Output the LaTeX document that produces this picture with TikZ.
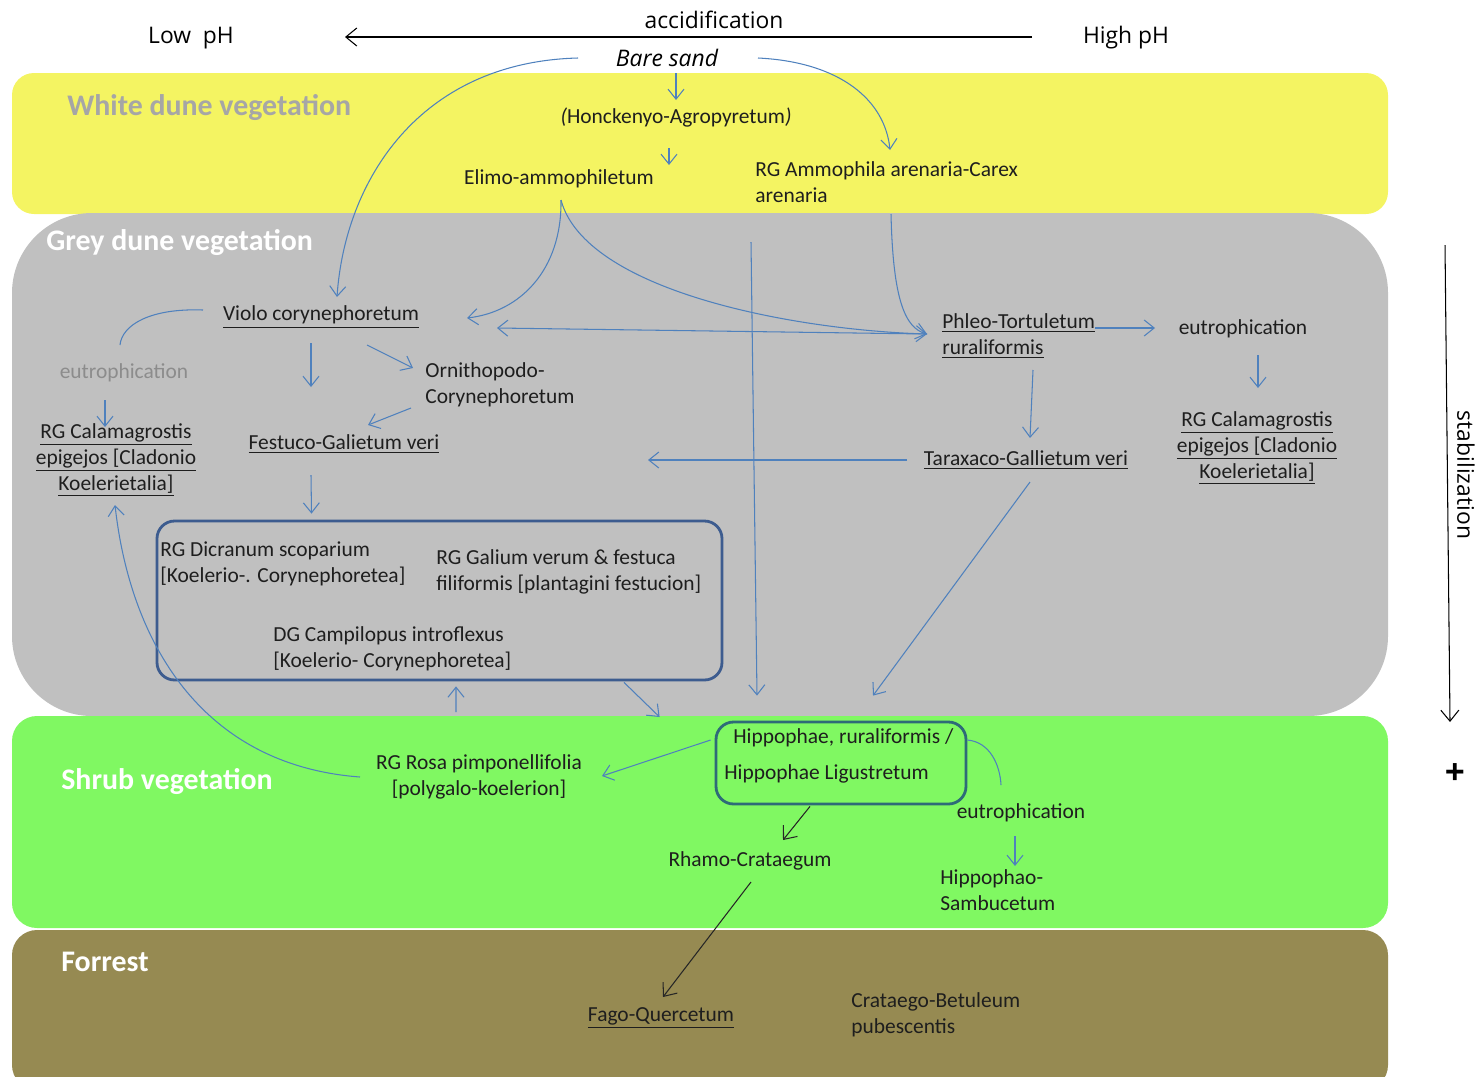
\documentclass[tikz,border=0pt]{standalone}
\usepackage{fontspec}
\setmainfont{Carlito}
\newfontfamily\headfont{Open Sans}
\usepackage{xcolor}
\usepackage{tikz}
\usetikzlibrary{arrows.meta, positioning, calc}

\definecolor{whitedune}{HTML}{F4F462}
\definecolor{greydune}{HTML}{C0C0C0}
\definecolor{shrubgreen}{HTML}{80F862}
\definecolor{forrestolive}{HTML}{968A52}
\definecolor{flowblue}{HTML}{4F81BD}
\definecolor{boxblue}{HTML}{3D5C8F}
\definecolor{boxteal}{HTML}{2E6B78}
\definecolor{inkgrey}{HTML}{1E1E1E}

\begin{document}
\begin{tikzpicture}[
    x=0.02cm, y=-0.02cm,
    bandtitle/.style={font=\fontsize{17}{20}\selectfont\bfseries, text=#1, anchor=west, inner sep=0pt},
    plant/.style={font=\fontsize{12.2}{14.7}\selectfont, text=inkgrey, inner sep=0pt, align=center},
    toplabel/.style={font=\headfont\fontsize{13}{15}\selectfont, text=black, inner sep=0pt},
    flow/.style={-{Straight Barb[length=2mm, width=3.2mm]}, line width=0.6pt, draw=flowblue},
    link/.style={line width=0.6pt, draw=flowblue},
    axis/.style={-{Straight Barb[length=2.2mm, width=3.6mm]}, line width=0.6pt, draw=black},
    groupbox/.style={draw=#1, line width=1.6pt, rounded corners=10pt, inner sep=0pt}
]
    \clip (0,0) rectangle (1476,1076);

    % Vegetation bands
    \fill[whitedune, rounded corners=0.44cm] (12,73) rectangle (1388,214);
    \fill[greydune, rounded corners=1.6cm] (12,213) rectangle (1388,716);
    \fill[shrubgreen, rounded corners=0.5cm] (12,716) rectangle (1388,928);
    \fill[forrestolive, rounded corners=0.5cm] (12,930) rectangle (1388,1090);

    \node[bandtitle=black!35] (whitet) at (67,108) {White dune vegetation};
    \node[bandtitle=white] (greyt) at (46,243) {Grey dune vegetation};
    \node[bandtitle=white] (shrubt) at (61,782) {Shrub vegetation};
    \node[bandtitle=white] (forrestt) at (61,962) {Forrest};

    % pH scale and stabilization
    \node[toplabel] (acc) at (714,20) {accidification};
    \node[toplabel] (low) at (191,38) {Low~~pH};
    \node[toplabel] (high) at (1126,38) {High pH};
    \draw[axis] ([shift={(318,17)}]acc.center) -- ([shift={(-369,17)}]acc.center);

    \node[toplabel, rotate=-90] (stab) at (1466,475) {stabilization};
    \node[inner sep=0pt, font=\headfont\bfseries\fontsize{20}{22}\selectfont] (plus) at (1455,774) {+};
    \coordinate (stabtop) at (1445,245);
    \coordinate (stabend) at (1450,722);
    \draw[axis] (stabtop) -- (stabend);

    % White dune
    \node[toplabel, font=\headfont\itshape\fontsize{13}{15}\selectfont] (bare) at (667,58) {Bare sand};
    \node[plant] (honck) at (676,118) {\textit{(}Honckenyo-Agropyretum\textit{)}};
    \node[plant] (elimo) at (559,179) {Elimo-ammophiletum};
    \node[plant, anchor=west, align=left] (ammo) at (755,182) {RG Ammophila arenaria-Carex\\arenaria};

    % Grey dune
    \node[plant] (violo) at (321,317) {\underline{Violo corynephoretum}};
    \node[plant, text=black!45] (eutl) at (124,373) {eutrophication};
    \node[plant] (call) at (116,460) {\underline{RG Calamagrostis}\\\underline{epigejos [Cladonio}\\\underline{Koelerietalia]}};
    \node[plant, anchor=west, align=left] (ornith) at (425,385) {Ornithopodo-\\Corynephoretum};
    \node[plant] (fest) at (344,444) {\underline{Festuco-Galietum veri}};
    \node[plant, anchor=west, align=left] (phleo) at (942,336) {\underline{Phleo-Tortuletum}\\\underline{ruraliformis}};
    \node[plant] (eutr) at (1243,329) {eutrophication};
    \node[plant] (calr) at (1257,448) {\underline{RG Calamagrostis}\\\underline{epigejos [Cladonio}\\\underline{Koelerietalia]}};
    \node[plant] (tarax) at (1026,460) {\underline{Taraxaco-Gallietum veri}};

    \node[groupbox=boxblue, minimum width=565*0.02cm, minimum height=159*0.02cm] (bigbox) at (439.5,600.5) {};
    \node[plant, anchor=west, align=left] (dicr) at (160,564) {RG Dicranum scoparium\\{[}Koelerio-. Corynephoretea]};
    \node[plant, anchor=west, align=left] (galium) at (436,572) {RG Galium verum \& festuca\\filiformis [plantagini festucion]};
    \node[plant, anchor=west, align=left] (campil) at (273,649) {DG Campilopus introflexus\\{[}Koelerio- Corynephoretea]};

    % Shrub
    \node[groupbox=boxteal, minimum width=250*0.02cm, minimum height=82*0.02cm] (hipbox) at (841,763) {};
    \node[plant, anchor=west] (hip1) at (733,738) {Hippophae, ruraliformis /};
    \node[plant, anchor=west] (hip2) at (724,774) {Hippophae Ligustretum};
    \node[plant] (rosa) at (479,777) {RG Rosa pimponellifolia\\{[}polygalo-koelerion]};
    \node[plant] (euts) at (1021,813) {eutrophication};
    \node[plant] (rhamo) at (750,861) {Rhamo-Crataegum};
    \node[plant, anchor=west, align=left] (sambu) at (940,890) {Hippophao-\\Sambucetum};

    % Forrest
    \node[plant] (fago) at (661,1018) {\underline{Fago-Quercetum}};
    \node[plant, anchor=west, align=left] (betul) at (851,1015) {Crataego-Betuleum\\pubescentis};

    % Arrows white dune
    \draw[flow] ([shift={(9,15)}]bare.center) -- ([shift={(0,-18)}]honck.center);
    \draw[flow] ([shift={(-7,30)}]honck.center) -- ([shift={(110,-14)}]elimo.center);
    \draw[flow] ([shift={(-89,0)}]bare.center) .. controls (420,62) and (345,180) .. ([shift={(16,-20)}]violo.center);
    \draw[flow] ([shift={(91,0)}]bare.center) .. controls (840,62) and (885,100) .. ([shift={(135,-32)}]ammo.west);
    \draw[flow] ([shift={(2,21)}]elimo.center) .. controls (562,270) and (520,312) .. ([shift={(146,1)}]violo.center);
    \draw[flow] ([shift={(2,21)}]elimo.center) .. controls (585,290) and (790,330) .. ([shift={(-15,-2)}]phleo.west);
    \draw[flow] ([shift={(136,32)}]ammo.west) .. controls (893,300) and (905,328) .. ([shift={(-15,-2)}]phleo.west);

    % Arrows grey dune
    \draw[flow] ([shift={(-15,-2)}]phleo.west) -- ([shift={(176,11)}]violo.center);
    \coordinate (longtop) at (751,242);
    \draw[flow] (longtop) -- ([shift={(-84,-25)}]hipbox.north);
    \draw[flow] ([shift={(-119,0)}]tarax.center) -- ([shift={(304,16)}]fest.center);
    \draw[flow] ([shift={(4,22)}]tarax.center) -- ([shift={(32,-25)}]hipbox.north);
    \draw[flow] ([shift={(153,-8)}]phleo.west) -- ([shift={(-88,-1)}]eutr.center);
    \draw[flow] ([shift={(91,34)}]phleo.west) -- ([shift={(4,-22)}]tarax.center);
    \draw[flow] ([shift={(15,26)}]eutr.center) -- ([shift={(1,-60)}]calr.center);
    \draw[flow] ([shift={(-10,26)}]violo.center) -- ([shift={(-33,-57)}]fest.center);
    \draw[flow] ([shift={(46,28)}]violo.center) -- ([shift={(-12,-17)}]ornith.west);
    \draw[flow] ([shift={(-14,23)}]ornith.west) -- ([shift={(24,-19)}]fest.center);
    \draw[flow] ([shift={(-33,31)}]fest.center) -- ([shift={(-128,-6)}]bigbox.north);
    \draw[link] ([shift={(-118,-7)}]violo.center) .. controls (150,308) and (122,325) .. ([shift={(-4,-28)}]eutl.center);
    \draw[flow] ([shift={(-19,27)}]eutl.center) -- ([shift={(-11,-33)}]call.center);

    % Arrows shrub and forrest
    \draw[flow] ([shift={(-119,0)}]rosa.center) .. controls (200,765) and (130,640) .. ([shift={(-1,45)}]call.center);
    \draw[flow] ([shift={(-23,-65)}]rosa.center) -- ([shift={(16.5,5)}]bigbox.south);
    \draw[flow] ([shift={(184.5,1)}]bigbox.south) -- ([shift={(-55,-46)}]hipbox.west);
    \draw[flow] ([shift={(-4,-23)}]hipbox.west) -- ([shift={(123,-1)}]rosa.center);
    \draw[link] ([shift={(0,-23)}]hipbox.east) .. controls (990,742) and (1000,765) .. ([shift={(-20,-28)}]euts.center);
    \draw[flow] ([shift={(-6,23)}]euts.center) -- ([shift={(75,-24)}]sambu.west);
    \draw[axis, draw=black!85] ([shift={(-31,1)}]hipbox.south) -- ([shift={(33,-21)}]rhamo.center);
    \draw[axis, draw=black!85] ([shift={(1,21)}]rhamo.center) -- ([shift={(2,-21)}]fago.center);

\end{tikzpicture}
\end{document}
